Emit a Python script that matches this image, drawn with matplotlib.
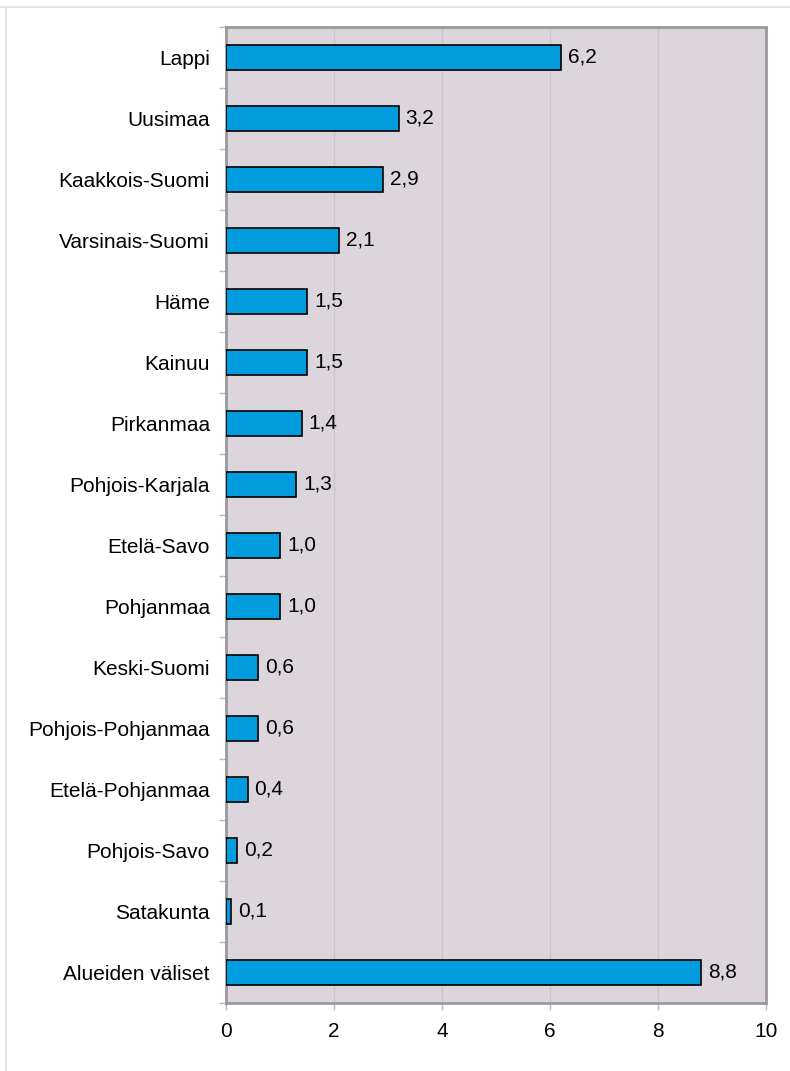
import matplotlib
matplotlib.use('Agg')
import matplotlib.pyplot as plt
from matplotlib.lines import Line2D
import numpy as np

plt.rcParams['font.family'] = ['Liberation Sans', 'DejaVu Sans']

# ===== Data =====
regions = ['Lappi', 'Uusimaa', 'Kaakkois-Suomi', 'Varsinais-Suomi', 'Häme',
           'Kainuu', 'Pirkanmaa', 'Pohjois-Karjala', 'Etelä-Savo', 'Pohjanmaa',
           'Keski-Suomi', 'Pohjois-Pohjanmaa', 'Etelä-Pohjanmaa', 'Pohjois-Savo',
           'Satakunta', 'Alueiden väliset']
values = [6.2, 3.2, 2.9, 2.1, 1.5, 1.5, 1.4, 1.3, 1.0, 1.0, 0.6, 0.6, 0.4, 0.2, 0.1, 8.8]
x_ticks = [0, 2, 4, 6, 8, 10]

C_BG = '#DCD5DC'
C_BAR = '#009CDE'
C_FRAME = '#9A9A9A'
C_GRID = '#CCC4CC'
FS = 15

fig = plt.figure(figsize=(7.9, 10.71), dpi=100)
ax = fig.add_axes([0.286, 0.0635, 0.6835, 0.9113])
ax.set_facecolor(C_BG)

y = np.arange(len(regions))
bars = ax.barh(y, values, height=0.4, color=C_BAR, edgecolor='black', linewidth=1.2, zorder=3)
for bar, val in zip(bars, values):
    ax.text(bar.get_width() + 0.13, bar.get_y() + bar.get_height() / 2,
            f'{val:.1f}'.replace('.', ','), ha='left', va='center', fontsize=FS, zorder=4)

ax.set_xlim(0, 10)
ax.set_ylim(len(regions) - 0.5, -0.5)
ax.set_xticks(x_ticks)
ax.set_xticklabels([str(t) for t in x_ticks], fontsize=FS)
ax.set_yticks(y)
ax.set_yticklabels(regions, fontsize=FS)
ax.set_yticks(np.arange(len(regions) + 1) - 0.5, minor=True)
ax.tick_params(axis='y', which='major', length=0, pad=11.5)
ax.tick_params(axis='y', which='minor', length=5, color='#BBBBBB', width=1)
ax.tick_params(axis='x', length=5, color='#BBBBBB', width=1, pad=9)

for xv in x_ticks[1:-1]:
    ax.axvline(xv, color=C_GRID, linewidth=0.9, zorder=1)

for s in ax.spines.values():
    s.set_color(C_FRAME)
    s.set_linewidth(2)

# light frame around the figure
fig.add_artist(Line2D([0, 1], [1 - 6.5 / 1071] * 2, color='#E6E6E6', linewidth=1.5))
fig.add_artist(Line2D([5.5 / 790] * 2, [0, 1 - 6.5 / 1071], color='#E6E6E6', linewidth=1.5))

plt.savefig('out.png', dpi=100)
plt.close()
